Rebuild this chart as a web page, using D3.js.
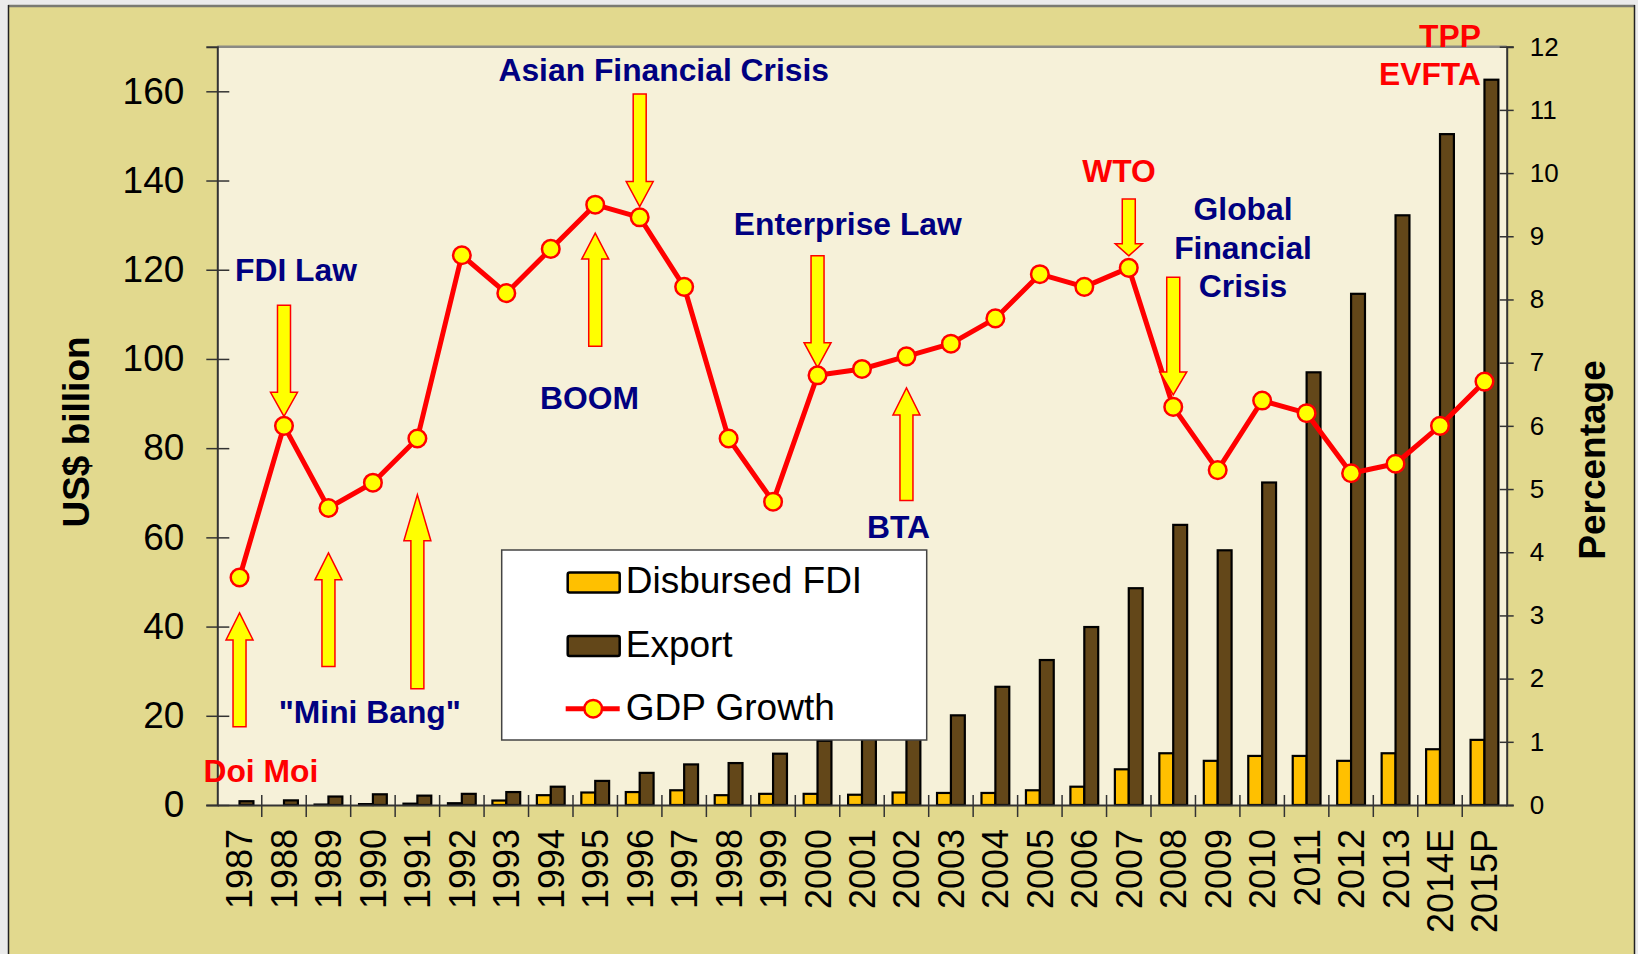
<!DOCTYPE html>
<html>
<head>
<meta charset="utf-8">
<script src="https://cdn.jsdelivr.net/npm/d3@7"></script>
<style>
  body { margin: 0; background: #ebebeb; }
  svg { display: block; font-family: "Liberation Sans", Arial, sans-serif; }
</style>
</head>
<body>
<svg id="chart"></svg>
<script>
// ---- data ----
const years = ["1987", "1988", "1989", "1990", "1991", "1992", "1993", "1994", "1995", "1996",
    "1997", "1998", "1999", "2000", "2001", "2002", "2003", "2004", "2005", "2006",
    "2007", "2008", "2009", "2010", "2011", "2012", "2013", "2014E", "2015P"];

// US$ billion
const disbursedFdi = [0, 0, 0.1, 0.2, 0.3, 0.4, 1.0, 2.2, 2.8, 2.9,
    3.3, 2.2, 2.5, 2.5, 2.3, 2.8, 2.7, 2.7, 3.3, 4.1,
    8.0, 11.6, 9.9, 11.0, 11.0, 9.9, 11.6, 12.5, 14.6];
const exports = [0.85, 1.04, 1.9, 2.4, 2.1, 2.5, 2.9, 4.1, 5.4, 7.2,
    9.1, 9.4, 11.5, 14.4, 15.0, 16.7, 20.1, 26.5, 32.5, 39.9,
    48.6, 62.8, 57.1, 72.3, 97.0, 114.6, 132.2, 150.4, 162.6];

// percentage
const gdpGrowth = [3.6, 6.0, 4.7, 5.1, 5.8, 8.7, 8.1, 8.8, 9.5, 9.3,
    8.2, 5.8, 4.8, 6.8, 6.9, 7.1, 7.3, 7.7, 8.4, 8.2,
    8.5, 6.3, 5.3, 6.4, 6.2, 5.25, 5.4, 6.0, 6.7];

const leftTicks = [0, 20, 40, 60, 80, 100, 120, 140, 160];
const rightTicks = [0, 1, 2, 3, 4, 5, 6, 7, 8, 9, 10, 11, 12];

const seriesNames = ["Disbursed FDI", "Export", "GDP Growth"];

// arrows: category, tail and tip in percent units, head length in px
const arrows = [
    {cat: "1987", from: 1.24, to: 3.04, head: 27},
    {cat: "1988", from: 7.91, to: 6.15, head: 24},
    {cat: "1989", from: 2.19, to: 3.99, head: 27},
    {cat: "1991", from: 1.84, to: 4.91, head: 46},
    {cat: "1995", from: 7.26, to: 9.05, head: 26},
    {cat: "1996", from: 11.25, to: 9.47, head: 25},
    {cat: "2000", from: 8.69, to: 6.92, head: 25},
    {cat: "2002", from: 4.82, to: 6.6, head: 27},
    {cat: "2007", from: 9.59, to: 8.69, head: 12},
    {cat: "2008", from: 8.35, to: 6.49, head: 23}
];

// labels: slot = fractional category index, pct = baseline in percent units
const notes = [
    {text: "Doi Moi", slot: 0.98, pct: 0.37, red: true},
    {text: "FDI Law", slot: 1.77, pct: 8.29},
    {text: "\"Mini Bang\"", slot: 3.43, pct: 1.30},
    {text: "BOOM", slot: 8.37, pct: 6.26},
    {text: "Asian Financial Crisis", slot: 10.04, pct: 11.45},
    {text: "Enterprise Law", slot: 14.18, pct: 9.02},
    {text: "BTA", slot: 15.32, pct: 4.23},
    {text: "WTO", slot: 20.28, pct: 9.86, red: true},
    {text: "Global", slot: 23.07, pct: 9.25},
    {text: "Financial", slot: 23.07, pct: 8.64},
    {text: "Crisis", slot: 23.07, pct: 8.04},
    {text: "TPP", slot: 28.42, pct: 12.0, red: true, anchor: "end"},
    {text: "EVFTA", slot: 28.42, pct: 11.39, red: true, anchor: "end"}
];

// ---- layout ----
const W = 1638, H = 954;
const plot = {left: 217.3, right: 1506.7, top: 46.7, bottom: 805};
const navy = "#000080", red = "#ff0000", yellow = "#ffff00";
const fdiColor = "#ffc000", exportColor = "#634719";

const svg = d3.select("#chart").attr("width", W).attr("height", H);

// outer panel
svg.append("rect")
    .attr("x", 8).attr("y", 5).attr("width", 1627).attr("height", H)
    .attr("fill", "#e2d98e");
svg.append("line").attr("x1", 8).attr("x2", 1635).attr("y1", 6).attr("y2", 6)
    .attr("stroke", "#7a7a72").attr("stroke-width", 2.5);
svg.append("line").attr("x1", 8.5).attr("x2", 8.5).attr("y1", 5).attr("y2", H)
    .attr("stroke", "#222").attr("stroke-width", 1.5);
svg.append("line").attr("x1", 1634.5).attr("x2", 1634.5).attr("y1", 5).attr("y2", H)
    .attr("stroke", "#222").attr("stroke-width", 1.5);

// plot area
svg.append("rect")
    .attr("x", plot.left).attr("y", plot.top)
    .attr("width", plot.right - plot.left).attr("height", plot.bottom - plot.top)
    .attr("fill", "#f6f1d9");
svg.append("line").attr("x1", plot.left).attr("x2", plot.right)
    .attr("y1", plot.top).attr("y2", plot.top)
    .attr("stroke", "#8a8a84").attr("stroke-width", 2.5);

// scales
const x = d3.scaleBand().domain(years).range([plot.left, plot.right]);
const xSub = d3.scaleBand().domain(["fdi", "export"]).range([0, x.bandwidth()]).paddingOuter(0.6);
const slot = d3.scaleLinear().domain([0, years.length]).range([plot.left, plot.right]);
const yLeft = d3.scaleLinear().domain([0, 170]).range([plot.bottom, plot.top]);
const yRight = d3.scaleLinear().domain([0, 12]).range([plot.bottom, plot.top]);

// bars
const barData = years.map((y, i) => ({year: y, fdi: disbursedFdi[i], export: exports[i]}));
const groups = svg.append("g").selectAll("g")
    .data(barData)
    .enter().append("g")
    .attr("transform", d => `translate(${x(d.year)},0)`);

groups.selectAll("rect")
    .data(d => [{k: "fdi", v: d.fdi}, {k: "export", v: d.export}])
    .enter().append("rect")
    .attr("x", d => xSub(d.k))
    .attr("width", xSub.bandwidth())
    .attr("y", d => yLeft(d.v))
    .attr("height", d => yLeft(0) - yLeft(d.v))
    .attr("fill", d => d.k == "fdi" ? fdiColor : exportColor)
    .attr("stroke", "#000")
    .attr("stroke-width", 2.2);

// left axis
const leftAxis = svg.append("g")
    .attr("transform", `translate(${plot.left},0)`)
    .call(d3.axisLeft(yLeft).tickValues(leftTicks).tickSize(11).tickPadding(22));
leftAxis.select(".domain").attr("stroke", "#333").attr("stroke-width", 2);
leftAxis.selectAll(".tick line").attr("x1", 12).attr("stroke", "#333").attr("stroke-width", 1.5);
leftAxis.selectAll(".tick text").attr("font-size", 37).attr("fill", "#000")
    .attr("font-family", "'Liberation Sans', Arial, sans-serif");

// right axis
const rightAxis = svg.append("g")
    .attr("transform", `translate(${plot.right},0)`)
    .call(d3.axisRight(yRight).tickValues(rightTicks).tickSize(7).tickPadding(16));
rightAxis.select(".domain").attr("stroke", "#333").attr("stroke-width", 2);
rightAxis.selectAll(".tick line").attr("x1", -7).attr("stroke", "#333").attr("stroke-width", 1.5);
rightAxis.selectAll(".tick text").attr("font-size", 26).attr("fill", "#000")
    .attr("font-family", "'Liberation Sans', Arial, sans-serif");

// bottom axis: labels at centres, ticks at boundaries
const bottomAxis = svg.append("g")
    .attr("transform", `translate(0,${plot.bottom})`)
    .call(d3.axisBottom(x).tickSize(0));
bottomAxis.select(".domain").attr("stroke", "#333").attr("stroke-width", 2);
bottomAxis.selectAll(".tick text")
    .attr("font-size", 36).attr("fill", "#000")
    .attr("font-family", "'Liberation Sans', Arial, sans-serif")
    .attr("transform", "rotate(-90)")
    .attr("x", -24).attr("y", 0).attr("dy", "0.36em")
    .attr("text-anchor", "end");
bottomAxis.selectAll(".bound")
    .data(years.slice(1))
    .enter().append("line")
    .attr("x1", d => x(d)).attr("x2", d => x(d))
    .attr("y1", -10).attr("y2", 12)
    .attr("stroke", "#333").attr("stroke-width", 1.5);

// axis titles
svg.append("text")
    .attr("transform", "translate(89,432) rotate(-90)")
    .attr("text-anchor", "middle")
    .attr("font-size", 37).attr("font-weight", "bold")
    .text("US$ billion");
svg.append("text")
    .attr("transform", "translate(1605,460) rotate(-90)")
    .attr("text-anchor", "middle")
    .attr("font-size", 37).attr("font-weight", "bold")
    .text("Percentage");

// legend (drawn over the bars it covers)
const legend = svg.append("g").attr("transform", "translate(501.7,550)");
legend.append("rect")
    .attr("width", 425).attr("height", 190)
    .attr("fill", "#fff").attr("stroke", "#444").attr("stroke-width", 1.5);
legend.append("rect")
    .attr("x", 66).attr("y", 22.5).attr("width", 52).attr("height", 20).attr("rx", 2)
    .attr("fill", fdiColor).attr("stroke", "#000").attr("stroke-width", 2.5);
legend.append("rect")
    .attr("x", 66).attr("y", 86).attr("width", 52).attr("height", 20).attr("rx", 2)
    .attr("fill", exportColor).attr("stroke", "#000").attr("stroke-width", 2.5);
legend.append("line")
    .attr("x1", 64).attr("x2", 118).attr("y1", 158.7).attr("y2", 158.7)
    .attr("stroke", red).attr("stroke-width", 5);
legend.append("circle")
    .attr("cx", 91.5).attr("cy", 158.7).attr("r", 8.8)
    .attr("fill", yellow).attr("stroke", red).attr("stroke-width", 2.5);
legend.selectAll(".lab")
    .data(seriesNames)
    .enter().append("text")
    .attr("x", 124)
    .attr("y", (d, i) => 43.3 + i * 63.3)
    .attr("font-size", 37)
    .text(d => d);

// GDP growth line
const line = d3.line()
    .x((d, i) => x(years[i]) + x.bandwidth() / 2)
    .y(d => yRight(d));
svg.append("path")
    .datum(gdpGrowth)
    .attr("fill", "none")
    .attr("stroke", red)
    .attr("stroke-width", 5)
    .attr("stroke-linejoin", "round")
    .attr("d", line);

// arrows
const arrowPath = a => {
    const cx = x(a.cat) + x.bandwidth() / 2;
    const tail = yRight(a.from), tip = yRight(a.to);
    const dir = tip < tail ? 1 : -1;     // 1 = pointing up
    const base = tip + dir * a.head;
    const hw = 13.5, sw = 6.5;
    return `M${cx},${tip} L${cx + hw},${base} L${cx + sw},${base} L${cx + sw},${tail}` +
        ` L${cx - sw},${tail} L${cx - sw},${base} L${cx - hw},${base} Z`;
};
svg.append("g").selectAll("path")
    .data(arrows)
    .enter().append("path")
    .attr("d", arrowPath)
    .attr("fill", yellow)
    .attr("stroke", red)
    .attr("stroke-width", 1.5)
    .attr("stroke-linejoin", "miter");

// markers
svg.append("g").selectAll("circle")
    .data(gdpGrowth)
    .enter().append("circle")
    .attr("cx", (d, i) => x(years[i]) + x.bandwidth() / 2)
    .attr("cy", d => yRight(d))
    .attr("r", 8.8)
    .attr("fill", yellow)
    .attr("stroke", red)
    .attr("stroke-width", 2.5);

// annotation text
svg.append("g").selectAll("text")
    .data(notes)
    .enter().append("text")
    .attr("x", d => slot(d.slot))
    .attr("y", d => yRight(d.pct))
    .attr("text-anchor", d => d.anchor || "middle")
    .attr("font-size", 31.8)
    .attr("font-weight", "bold")
    .attr("fill", d => d.red ? red : navy)
    .text(d => d.text);
</script>
</body>
</html>
